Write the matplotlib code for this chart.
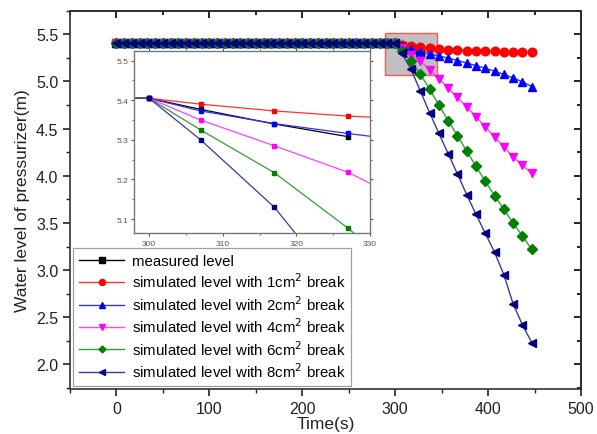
import matplotlib
matplotlib.use("Agg")
import matplotlib.pyplot as plt
from matplotlib.patches import Rectangle
from matplotlib.ticker import MultipleLocator, FormatStrFormatter

plt.rcParams['font.family'] = ['Liberation Sans', 'DejaVu Sans']

# ---------------- data ----------------
t_flat = [0, 8.3, 16.7, 25, 33.3, 41.7, 50, 58.3, 66.7, 75, 83.3, 91.7, 100,
          108.3, 116.7, 125, 133.3, 141.7, 150, 158.3, 166.7, 175, 183.3, 191.7,
          200, 208.3, 216.7, 225, 233.3, 241.7, 250, 258.3, 266.7, 275, 283.3,
          291.7, 300]
level_flat = [5.405] * len(t_flat)

t_sim = [307, 317, 327, 337, 347, 357, 367, 377, 387, 397, 407, 417, 427, 437, 447]
t_meas = [307, 317, 327]

measured = [5.377, 5.340, 5.308]
sim_1cm = [5.390, 5.373, 5.360, 5.351, 5.344, 5.338, 5.333, 5.328, 5.324, 5.321,
           5.318, 5.316, 5.314, 5.312, 5.311]
sim_2cm = [5.373, 5.341, 5.316, 5.293, 5.270, 5.247, 5.222, 5.195, 5.168, 5.140,
           5.108, 5.075, 5.038, 4.995, 4.946]
sim_4cm = [5.350, 5.285, 5.218, 5.125, 5.030, 4.930, 4.830, 4.730, 4.625, 4.520,
           4.410, 4.305, 4.200, 4.110, 4.029]
sim_6cm = [5.325, 5.217, 5.077, 4.920, 4.750, 4.585, 4.425, 4.260, 4.100, 3.940,
           3.790, 3.645, 3.500, 3.360, 3.220]
sim_8cm = [5.300, 5.130, 4.900, 4.670, 4.450, 4.235, 4.020, 3.800, 3.590, 3.390,
           3.190, 2.950, 2.640, 2.420, 2.232]

labels = ['measured level',
          'simulated level with 1cm$^2$ break',
          'simulated level with 2cm$^2$ break',
          'simulated level with 4cm$^2$ break',
          'simulated level with 6cm$^2$ break',
          'simulated level with 8cm$^2$ break']
colors = ['#000000', '#FF0000', '#0000FF', '#FF00FF', '#008000', '#000080']
line_colors = ['#000000', '#FF3030', '#3030FF', '#FF40FF', '#30A030', '#3a3a9a']
markers = ['s', 'o', '^', 'v', 'D', '<']
msizes = [5.5, 6.2, 6.2, 6.2, 5.0, 6.2]

series = [(t_meas, measured), (t_sim, sim_1cm), (t_sim, sim_2cm),
          (t_sim, sim_4cm), (t_sim, sim_6cm), (t_sim, sim_8cm)]

# ---------------- figure ----------------
fig = plt.figure(figsize=(5.97, 4.35), dpi=100)
ax = fig.add_axes([0.1173, 0.1034, 0.8559, 0.8697])

handles = []
for (tt, vv), c, lc, m, ms, lab in zip(series, colors, line_colors, markers, msizes, labels):
    x = t_flat + tt
    y = level_flat + vv
    h, = ax.plot(x, y, color=lc, marker=m, markersize=ms, markerfacecolor=c,
                 markeredgecolor=c, linewidth=1.0, label=lab, zorder=3)
    handles.append(h)

# zoom box
ax.add_patch(Rectangle((288.6, 5.068), 56.1, 0.45, facecolor='#c0c0c0',
                       edgecolor='#ff5555', linewidth=1.0, zorder=2))

ax.set_xlim(-50, 500)
ax.set_ylim(1.74, 5.75)
ax.xaxis.set_major_locator(MultipleLocator(100))
ax.xaxis.set_minor_locator(MultipleLocator(50))
ax.yaxis.set_major_locator(MultipleLocator(0.5))
ax.yaxis.set_minor_locator(MultipleLocator(0.25))
ax.yaxis.set_major_formatter(FormatStrFormatter('%.1f'))
ax.tick_params(axis='both', which='both', direction='out', labelsize=11.5,
               colors='#222222')
ax.tick_params(which='major', length=5, width=1.2)
ax.tick_params(which='minor', length=3, width=1.0)
# top/right ticks inward
sec_x = ax.secondary_xaxis('top')
sec_x.xaxis.set_major_locator(MultipleLocator(100))
sec_x.xaxis.set_minor_locator(MultipleLocator(50))
sec_x.tick_params(which='both', direction='in', labeltop=False, width=1.2)
sec_x.tick_params(which='major', length=5)
sec_x.tick_params(which='minor', length=3)
sec_y = ax.secondary_yaxis('right')
sec_y.yaxis.set_major_locator(MultipleLocator(0.5))
sec_y.yaxis.set_minor_locator(MultipleLocator(0.25))
sec_y.tick_params(which='both', direction='in', labelright=False, width=1.2)
sec_y.tick_params(which='major', length=5)
sec_y.tick_params(which='minor', length=3)
for s in ax.spines.values():
    s.set_linewidth(1.2)
    s.set_color('#333333')
sec_x.spines['top'].set_linewidth(1.2)
sec_y.spines['right'].set_linewidth(1.2)

ax.set_xlabel('Time(s)', fontsize=12.5, labelpad=0, color='#222222')
ax.set_ylabel('Water level of pressurizer(m)', fontsize=12.5, labelpad=4,
              color='#222222')

leg = fig.legend(handles=handles, labels=labels, loc='lower left',
                 bbox_to_anchor=(0.1223, 0.110), bbox_transform=fig.transFigure,
                 fontsize=10.8, frameon=True, fancybox=False, edgecolor='#888888',
                 handlelength=3.0, handletextpad=0.5, borderpad=0.4,
                 labelspacing=0.25, borderaxespad=0, markerscale=0.7)
leg.get_frame().set_linewidth(0.9)
leg.set_zorder(5)

# ---------------- inset ----------------
axin = fig.add_axes([0.225, 0.4614, 0.3948, 0.4197])
for (tt, vv), c, lc in zip(series, colors, line_colors):
    x = t_flat + tt
    y = level_flat + vv
    axin.plot(x, y, color=lc, marker='s', markersize=2.2, markerfacecolor=c,
              markeredgecolor=c, linewidth=0.9)
axin.set_xlim(298, 330)
axin.set_ylim(5.064, 5.525)
axin.xaxis.set_major_locator(MultipleLocator(10))
axin.xaxis.set_minor_locator(MultipleLocator(5))
axin.yaxis.set_major_locator(MultipleLocator(0.1))
axin.yaxis.set_minor_locator(MultipleLocator(0.05))
axin.yaxis.set_major_formatter(FormatStrFormatter('%.1f'))
axin.tick_params(which='both', labelsize=6, colors='#555555', pad=2,
                 top=True, right=True, direction='out')
axin.tick_params(which='major', length=2.5, width=0.8)
axin.tick_params(which='minor', length=1.5, width=0.6)
for s in axin.spines.values():
    s.set_linewidth(1.0)
    s.set_color('#777777')

fig.savefig('out.png', dpi=100)
